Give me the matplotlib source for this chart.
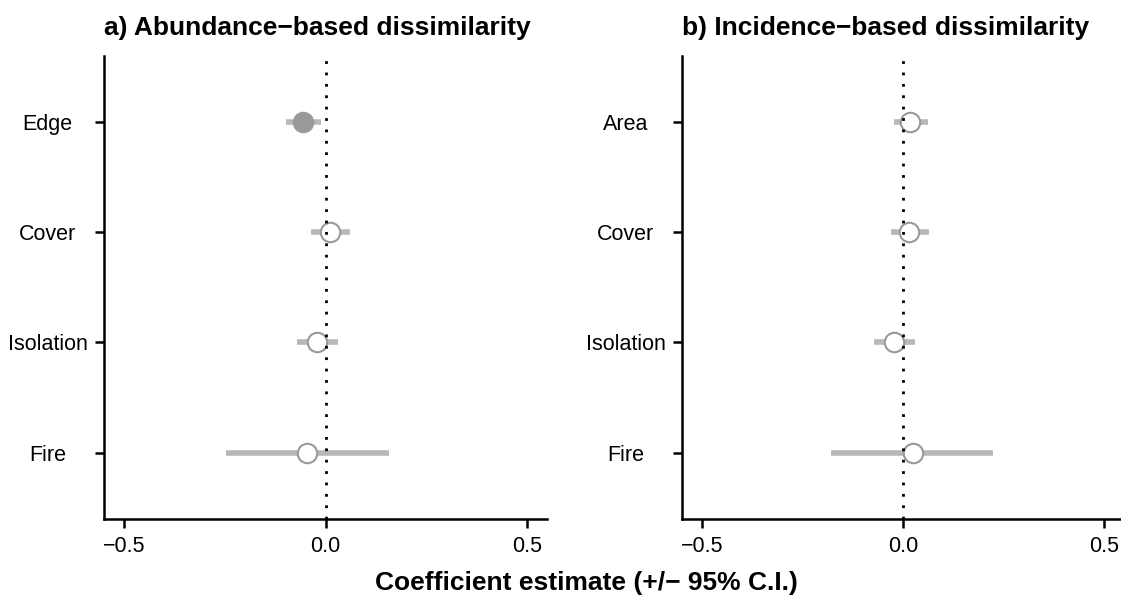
import matplotlib
matplotlib.use("Agg")
import matplotlib.pyplot as plt

plt.rcParams['font.family'] = ['Liberation Sans', 'DejaVu Sans']

# coefficient estimates, top row first
abund_terms = ["Edge", "Cover", "Isolation", "Fire"]
abund_est = [-0.056, 0.011, -0.021, -0.046]
abund_lo = [-0.098, -0.035, -0.071, -0.247]
abund_hi = [-0.012, 0.060, 0.030, 0.157]
abund_sig = [True, False, False, False]

incid_terms = ["Area", "Cover", "Isolation", "Fire"]
incid_est = [0.018, 0.016, -0.022, 0.024]
incid_lo = [-0.022, -0.031, -0.072, -0.178]
incid_hi = [0.063, 0.064, 0.030, 0.223]
incid_sig = [False, False, False, False]

x_ticks = [-0.5, 0.0, 0.5]
x_ticklabels = ["\u22120.5", "0.0", "0.5"]

W, H = 1121, 603
fig = plt.figure(figsize=(W / 100, H / 100), dpi=100)

ci_color = "#b8b8b8"
pt_color = "#999999"


def coef_panel(ax, terms, est, lo, hi, sig):
    n = len(terms)
    ys = [n - i for i in range(n)]
    for y, e, l, h, s in zip(ys, est, lo, hi, sig):
        ax.plot([l, h], [y, y], color=ci_color, lw=4, solid_capstyle='butt', zorder=2)
        ax.plot([e], [y], marker='o', ms=14, mew=1.5, mec=pt_color,
                mfc=pt_color if s else 'white', zorder=3)
    ax.axvline(0, color='black', lw=2, linestyle=(0, (1, 3.1)), zorder=4)

    ax.set_xlim(-0.55, 0.55)
    ax.set_ylim(0.4, n + 0.6)
    ax.set_yticks(ys)
    ax.set_yticklabels(terms)
    ax.set_xticks(x_ticks)
    ax.set_xticklabels(x_ticklabels)

    for side in ('top', 'right'):
        ax.spines[side].set_visible(False)
    for side in ('left', 'bottom'):
        ax.spines[side].set_linewidth(1.8)
    ax.tick_params(axis='both', length=6.5, width=1.8, labelsize=15.5, colors='black')
    ax.tick_params(axis='x', pad=6)
    ax.tick_params(axis='y', pad=34)
    for lab in ax.get_yticklabels():
        lab.set_horizontalalignment('center')


ax1 = fig.add_axes([104 / W, (H - 518.7) / H, 443 / W, 462.7 / H])
ax2 = fig.add_axes([681.7 / W, (H - 518.7) / H, 442.7 / W, 462.7 / H])

coef_panel(ax1, abund_terms, abund_est, abund_lo, abund_hi, abund_sig)
coef_panel(ax2, incid_terms, incid_est, incid_lo, incid_hi, incid_sig)

fig.text(104 / W, 1 - 28 / H, "a) Abundance\u2212based dissimilarity",
         ha='left', va='center', fontsize=19, fontweight='bold')
fig.text(681.7 / W, 1 - 28 / H, "b) Incidence\u2212based dissimilarity",
         ha='left', va='center', fontsize=19, fontweight='bold')
fig.text(586.7 / W, 1 - 583 / H, "Coefficient estimate (+/\u2212 95% C.I.)",
         ha='center', va='center', fontsize=19, fontweight='bold')

fig.savefig("out.png", dpi=100)
